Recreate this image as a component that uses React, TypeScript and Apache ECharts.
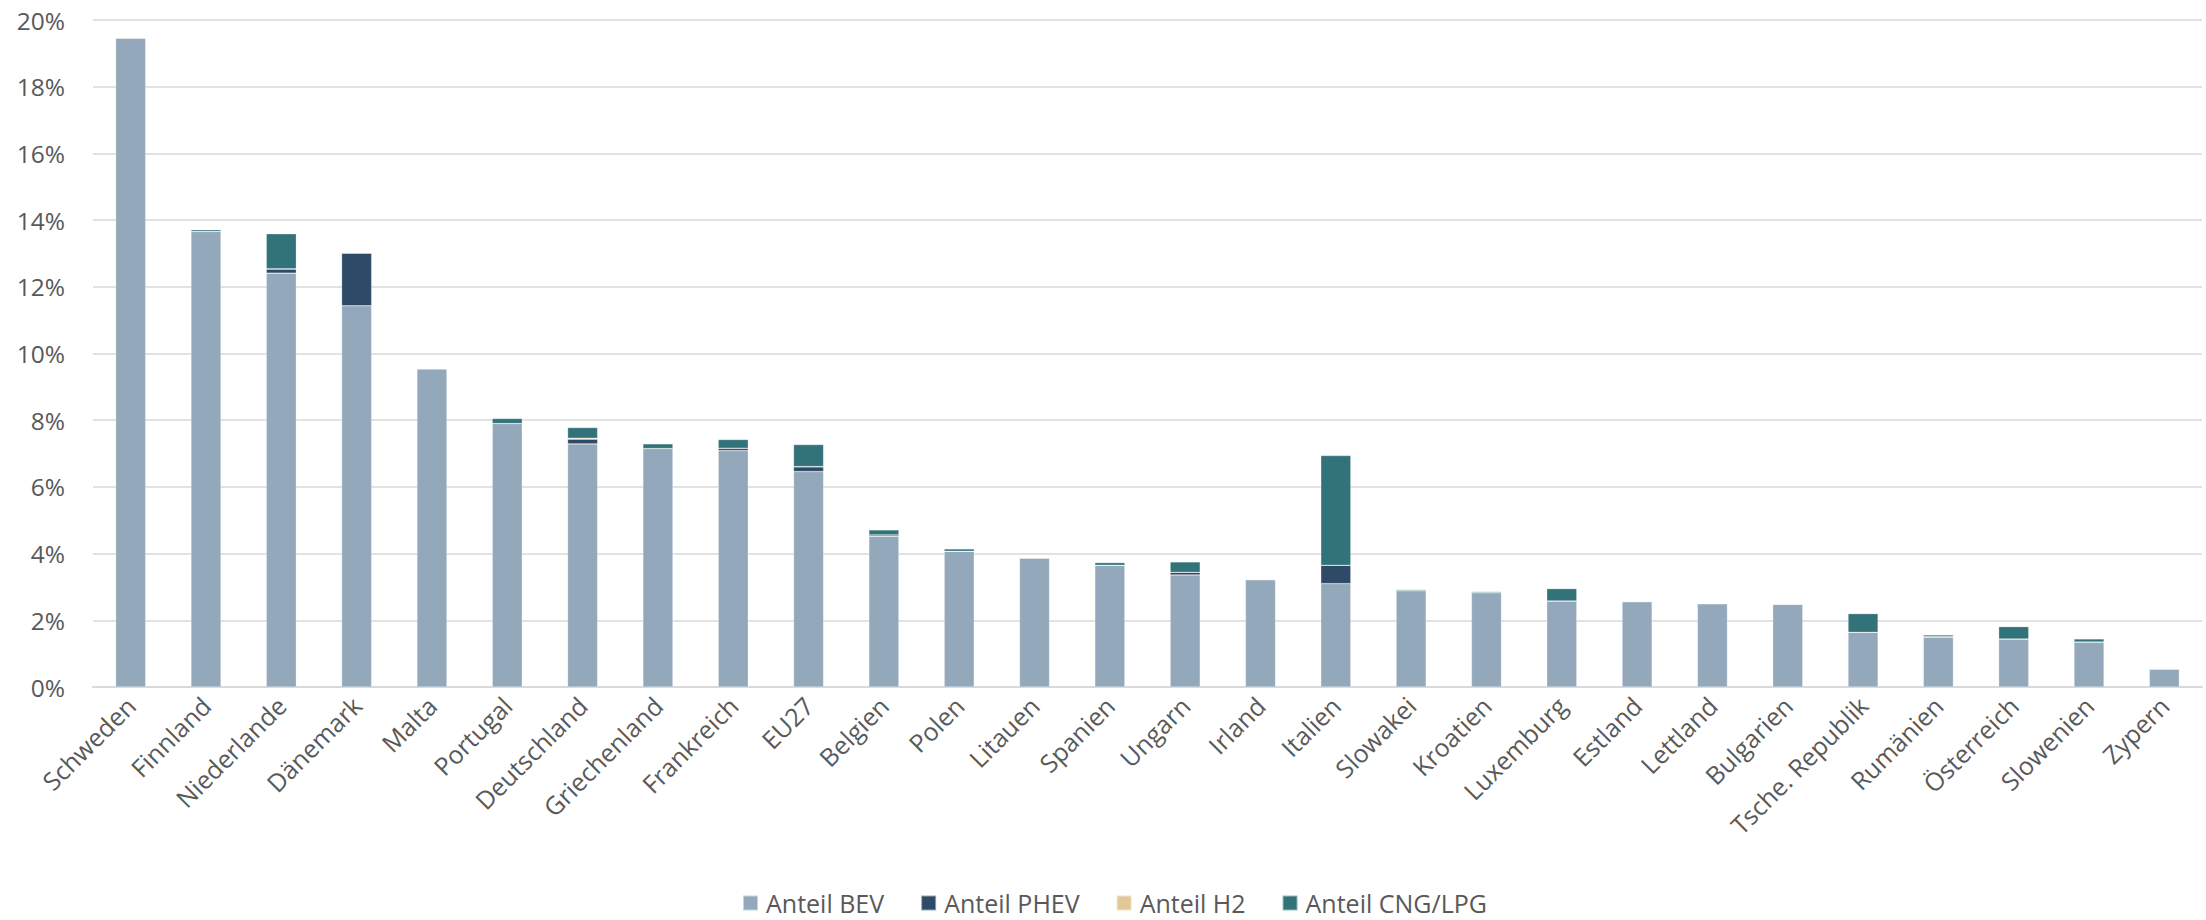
import React, { useEffect, useRef } from "react";
import * as echarts from "echarts";

const categories = [
  "Schweden", "Finnland", "Niederlande", "Dänemark", "Malta", "Portugal", "Deutschland",
  "Griechenland", "Frankreich", "EU27", "Belgien", "Polen", "Litauen", "Spanien", "Ungarn",
  "Irland", "Italien", "Slowakei", "Kroatien", "Luxemburg", "Estland", "Lettland", "Bulgarien",
  "Tsche. Republik", "Rumänien", "Österreich", "Slowenien", "Zypern",
];

const anteilBEV = [19.46, 13.66, 12.41, 11.43, 9.54, 7.9, 7.29, 7.15, 7.09, 6.46, 4.52, 4.07, 3.87, 3.65, 3.36, 3.22, 3.1, 2.89, 2.83, 2.58, 2.56, 2.5, 2.48, 1.64, 1.49, 1.44, 1.35, 0.54];
const anteilPHEV = [0, 0, 0.12, 1.58, 0, 0, 0.14, 0, 0.07, 0.14, 0.04, 0, 0, 0, 0.08, 0, 0.55, 0, 0, 0, 0, 0, 0, 0, 0.02, 0, 0, 0];
const anteilH2 = [0, 0, 0.01, 0, 0, 0, 0.03, 0, 0, 0.01, 0, 0, 0, 0, 0, 0, 0, 0, 0, 0, 0, 0, 0, 0, 0, 0, 0, 0];
const anteilCNG = [0, 0.05, 1.05, 0, 0, 0.15, 0.32, 0.14, 0.26, 0.66, 0.15, 0.07, 0, 0.08, 0.31, 0, 3.29, 0.03, 0.03, 0.37, 0, 0, 0, 0.56, 0.05, 0.37, 0.09, 0];

const yTicks = { min: 0, max: 20, interval: 2 };

const seriesNames = ["Anteil BEV", "Anteil PHEV", "Anteil H2", "Anteil CNG/LPG"];
const seriesColors = ["#94A8BB", "#2E4A66", "#E2C897", "#32737A"];

export default function App() {
  const ref = useRef<HTMLDivElement>(null);
  useEffect(() => {
    if (!ref.current) return;
    const chart = echarts.init(ref.current, null, { renderer: "svg" });
    const data = [anteilBEV, anteilPHEV, anteilH2, anteilCNG];
    const font = "'Open Sans', 'DejaVu Sans', sans-serif";
    chart.setOption({
      animation: false,
      textStyle: { fontFamily: font },
      grid: { left: 93, right: 4, top: 20, bottom: 233, containLabel: false },
      legend: {
        left: 737,
        top: 885,
        icon: "rect",
        itemWidth: 15,
        itemHeight: 15,
        itemGap: 36,
        textStyle: {
          fontSize: 25,
          lineHeight: 26,
          color: "#595959",
          fontFamily: font,
          padding: [0, 0, 0, 3],
        },
        data: seriesNames,
      },
      xAxis: {
        type: "category",
        data: categories,
        axisTick: { show: false },
        axisLine: { lineStyle: { color: "#D9D9D9", width: 2 } },
        axisLabel: {
          interval: 0,
          rotate: 45,
          fontSize: 25,
          color: "#595959",
          margin: 14,
          fontFamily: font,
        },
      },
      yAxis: {
        type: "value",
        min: yTicks.min,
        max: yTicks.max,
        interval: yTicks.interval,
        axisLabel: {
          formatter: "{value}%",
          fontSize: 24.5,
          color: "#595959",
          margin: 28,
          fontFamily: font,
        },
        axisLine: { show: false },
        axisTick: { show: false },
        splitLine: { lineStyle: { color: "#D9D9D9", width: 1.5 } },
      },
      series: seriesNames.map((name, i) => ({
        name,
        type: "bar",
        stack: "total",
        barWidth: 30,
        data: data[i],
        itemStyle: { color: seriesColors[i], borderColor: "rgba(255,255,255,0.5)", borderWidth: 0.5 },
      })),
    });
    return () => chart.dispose();
  }, []);
  return (
    <div
      ref={ref}
      style={{ position: "fixed", left: 0, top: 0, width: 2206, height: 920, background: "#fff" }}
    />
  );
}
